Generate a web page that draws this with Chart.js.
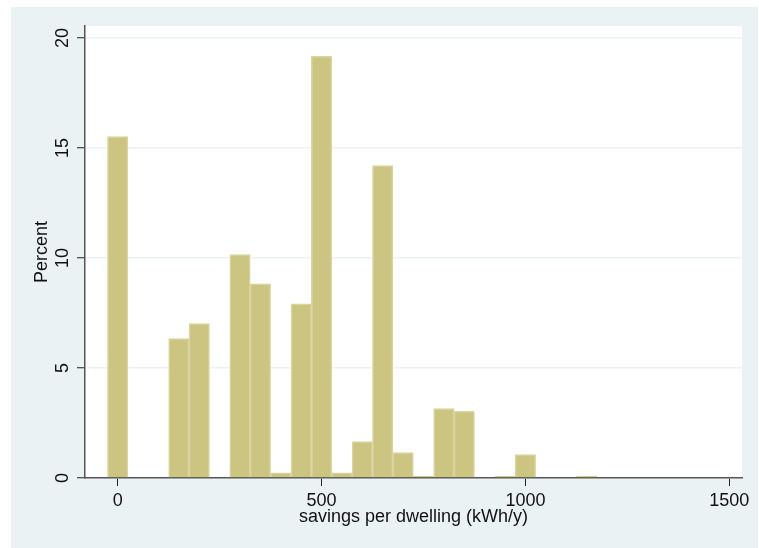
<!DOCTYPE html>
<html>
<head>
<meta charset="utf-8">
<title>Savings per dwelling</title>
<script src="https://cdn.jsdelivr.net/npm/chart.js@4/dist/chart.umd.min.js"></script>
<style>
  html, body { margin: 0; padding: 0; background: #ffffff; }
  #wrap { width: 759px; height: 548px; position: relative; }
</style>
</head>
<body>
<div id="wrap"><canvas id="hist"></canvas></div>
<script>
// Histogram bins (centre of each 50 kWh/y bin) and share of dwellings in each, %
const binCenters = [0, 50, 100, 150, 200, 250, 300, 350, 400, 450, 500, 550,
                    600, 650, 700, 750, 800, 850, 900, 950, 1000, 1050, 1100, 1150];
const percents   = [15.52, 0, 0, 6.34, 7.02, 0, 10.15, 8.83, 0.24, 7.92, 19.17, 0.24,
                    1.65, 14.20, 1.15, 0.06, 3.15, 3.03, 0, 0.06, 1.06, 0, 0, 0.06];

const xTickValues = [0, 500, 1000, 1500];
const yTickValues = [0, 5, 10, 15, 20];

const xTitle = 'savings per dwelling (kWh/y)';
const yTitle = 'Percent';

const FONT = '"Liberation Sans", Arial, Helvetica, sans-serif';
const OUTER_BG = '#eaf2f3';
const GRID = '#eaf2f3';
const AXIS = '#555555';
const BAR_FILL = '#ccc582';
const BAR_EDGE = '#d9d49f';
const THIN_BAR = '#b8ae5c';   // very short bars show only their darker outline

// Stata-like panels: light bluish outer region, white plot region
const panels = {
  id: 'panels',
  beforeDraw(chart) {
    const { ctx, chartArea: a, width, height } = chart;
    ctx.save();
    ctx.fillStyle = '#ffffff';
    ctx.fillRect(0, 0, width, height);
    ctx.fillStyle = OUTER_BG;
    ctx.fillRect(11, 7, width - 12, height - 7);
    ctx.fillStyle = '#ffffff';
    ctx.fillRect(a.left, a.top, a.right - a.left, a.bottom - a.top);
    ctx.restore();
  }
};

const isThin = ctx => ctx.raw && ctx.raw.y > 0 && ctx.raw.y < 0.1;

new Chart(document.getElementById('hist'), {
  type: 'bar',
  data: {
    datasets: [{
      data: binCenters.map((x, i) => ({ x: x, y: percents[i] })),
      backgroundColor: ctx => isThin(ctx) ? THIN_BAR : BAR_FILL,
      borderColor: ctx => isThin(ctx) ? THIN_BAR : BAR_EDGE,
      borderWidth: 1.5,
      barPercentage: 1,
      categoryPercentage: 1
    }]
  },
  options: {
    responsive: true,
    maintainAspectRatio: false,
    animation: false,
    layout: { padding: { left: 0, right: 17, top: 26, bottom: 0 } },
    plugins: { legend: { display: false }, tooltip: { enabled: false } },
    scales: {
      x: {
        type: 'linear',
        offset: false,
        min: -80.2,
        max: 1531.2,
        afterBuildTicks: s => { s.ticks = xTickValues.map(v => ({ value: v })); },
        afterFit: s => { s.height = 70; },
        border: { color: AXIS, width: 1.5 },
        grid: { offset: false, drawOnChartArea: false, tickLength: 8, tickColor: '#222', tickWidth: 1 },
        ticks: { color: '#111', font: { family: FONT, size: 18 }, padding: 4, maxRotation: 0,
                 callback: v => String(v) },
        title: { display: true, text: xTitle, color: '#111',
                 font: { family: FONT, size: 18 }, padding: { top: 0, bottom: 20 } }
      },
      y: {
        type: 'linear',
        min: 0,
        max: 20.545,
        afterBuildTicks: s => { s.ticks = yTickValues.map(v => ({ value: v })); },
        afterFit: s => { s.width = 85; },
        border: { color: AXIS, width: 1.5 },
        grid: { color: GRID, lineWidth: 1.5, tickLength: 8, tickColor: '#222', tickWidth: 1 },
        ticks: { color: '#111', font: { family: FONT, size: 18 }, padding: 4,
                 minRotation: 90, maxRotation: 90, crossAlign: 'center',
                 callback: v => String(v) },
        title: { display: true, text: yTitle, color: '#111',
                 font: { family: FONT, size: 18 }, padding: { top: 31, bottom: 0 } }
      }
    }
  },
  plugins: [panels]
});
</script>
</body>
</html>
